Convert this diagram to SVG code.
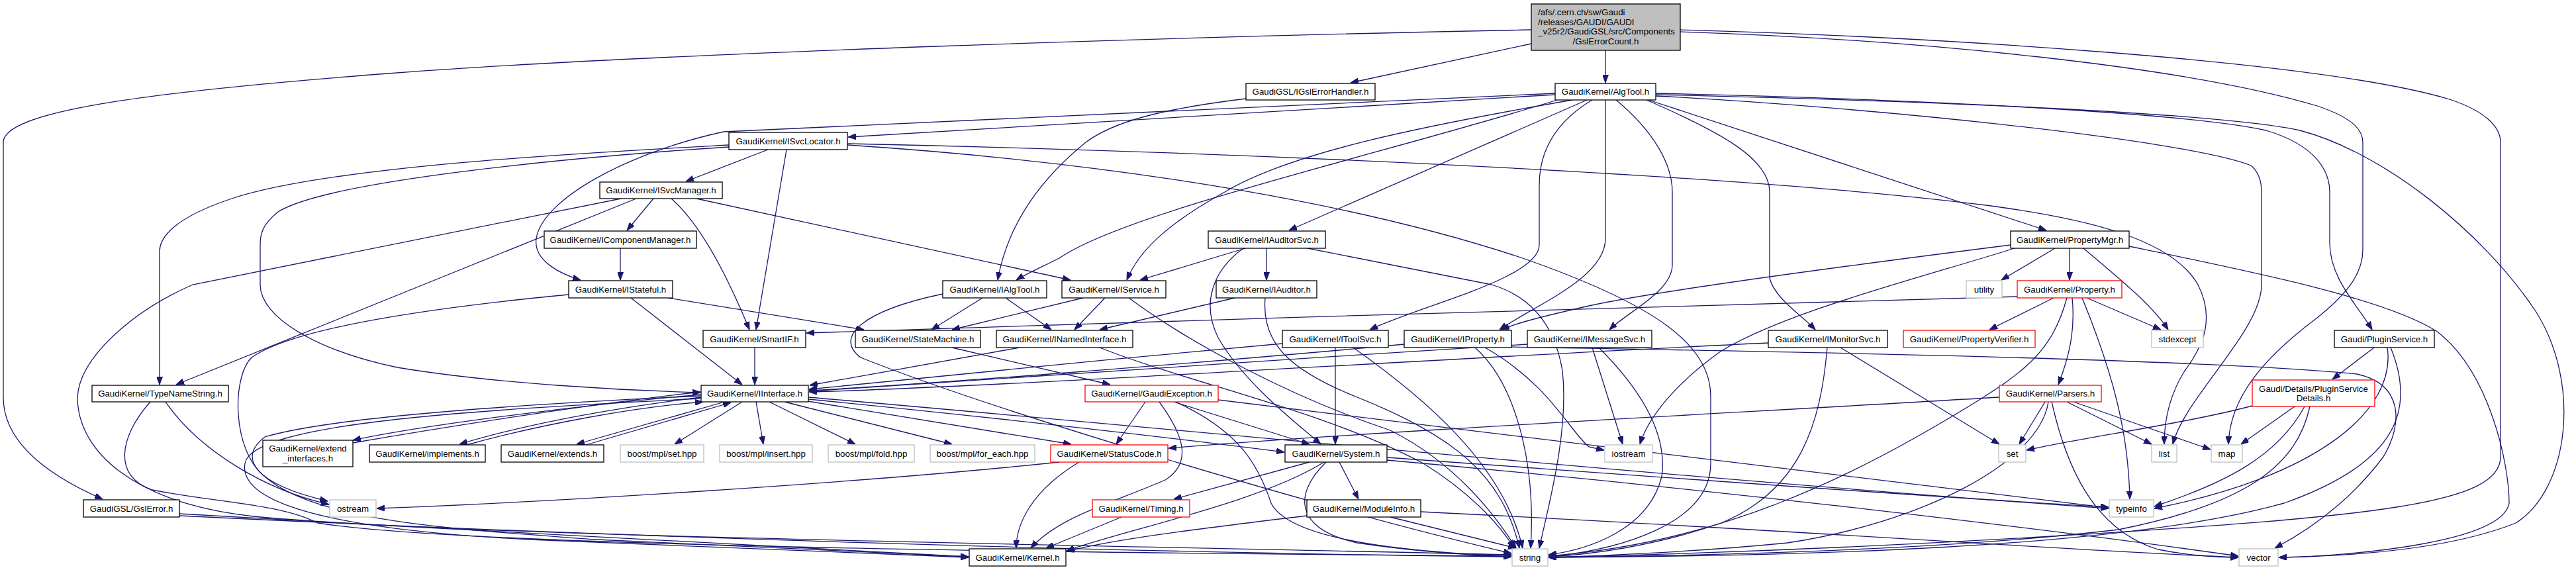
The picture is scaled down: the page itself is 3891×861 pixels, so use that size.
<svg xmlns="http://www.w3.org/2000/svg" width="3891" height="861" viewBox="0 0 3891 861">
<style>
.e{fill:none;stroke:#191970;stroke-width:1.3;marker-end:url(#ah)}
.n rect{fill:#fff;stroke:#000;stroke-width:1.3}
.g rect{fill:#fff;stroke:#bfbfbf;stroke-width:1.3}
.r rect{fill:#fff;stroke:#ff0000;stroke-width:1.3}
.rt rect{fill:#bfbfbf;stroke:#000;stroke-width:1.3}
text{font-family:"Liberation Sans",Arial,Helvetica,sans-serif;font-size:13.3px;fill:#000;text-anchor:middle}
text.l{text-anchor:start}
</style>
<defs>
<marker id="ah" markerUnits="userSpaceOnUse" viewBox="0 0 12 9" refX="12" refY="4.5" markerWidth="12" markerHeight="9" orient="auto">
<path d="M0,0 L12,4.5 L0,9 z" fill="#191970" stroke="#191970"/>
</marker>
</defs>
<rect width="3891" height="861" fill="#fff"/>
<g id="edges">
<path class="e" d="M2313,66 L2040,125"/>
<path class="e" d="M2425,76 L2425,125"/>
<path class="e" d="M2313,45 C1800,55 1000,80 600,110 C200,140 5,170 5,215 L5,600 C5,680 100,730 155,754"/>
<path class="e" d="M2538,45 C2900,55 3500,90 3700,150 C3760,170 3777,195 3777,215 L3777,690 C3777,760 3600,780 3100,810 C2800,828 2500,838 2339,842"/>
<path class="e" d="M2538,48 C2900,60 3300,100 3500,160 C3560,180 3569,200 3569,215 L3569,377 C3569,410 3550,440 3500,480 C3420,540 3368,600 3366,671"/>
<path class="e" d="M2349,143 L1281,207"/>
<path class="e" d="M2349,141 L1093,199 C950,230 820,300 810,360 C805,395 850,415 877,423"/>
<path class="e" d="M2352,151 C2100,230 1700,320 1600,390 C1570,405 1548,415 1535,423"/>
<path class="e" d="M2375,151 C2150,190 1950,230 1850,290 C1760,340 1720,380 1702,423"/>
<path class="e" d="M2397,151 L1947,348"/>
<path class="e" d="M2405,151 C2340,190 2325,240 2325,280 L2325,370 C2325,420 2150,460 2069,498"/>
<path class="e" d="M2425,151 L2425,360 C2425,420 2320,460 2265,498"/>
<path class="e" d="M2441,151 C2500,200 2526,250 2526,290 L2526,400 C2526,440 2460,470 2431,498"/>
<path class="e" d="M2487,151 C2600,200 2673,240 2673,290 L2673,420 C2680,450 2720,475 2742,498"/>
<path class="e" d="M2490,151 L3091,348"/>
<path class="e" d="M2501,141 C2900,150 3300,170 3423,197 C3500,220 3519,260 3519,290 L3519,367 C3519,420 3560,460 3583,498"/>
<path class="e" d="M2501,143 C2900,152 3350,170 3474,197 C3600,230 3750,350 3830,470 C3900,580 3880,740 3800,790 C3700,830 3550,840 3442,842"/>
<path class="e" d="M2501,145 C2800,160 3300,210 3400,250 C3412,260 3416,275 3416,290 L3416,430 C3416,500 3300,600 3282,671"/>
<path class="e" d="M1882,149 C1750,165 1680,185 1640,215 C1560,280 1520,350 1507,423"/>
<path class="e" d="M1160,226 L1036,274"/>
<path class="e" d="M1188,226 L1142,498"/>
<path class="e" d="M1101,219 C900,230 500,250 350,300 C260,330 241,360 241,380 L241,581"/>
<path class="e" d="M1101,222 C900,235 500,270 420,320 C395,340 393,355 393,370 L393,430 C393,480 480,530 600,555 C750,580 950,590 1058,593"/>
<path class="e" d="M1280,217 C1800,228 2600,260 3000,310 C3150,330 3280,360 3320,430 C3345,480 3330,520 3300,560 C3275,600 3269,640 3269,671"/>
<path class="e" d="M1280,219 C1600,240 2000,290 2300,390 C2500,460 2584,520 2584,600 L2584,700 C2584,790 2450,830 2339,841"/>
<path class="e" d="M987,300 L947,348"/>
<path class="e" d="M1014,300 C1060,340 1100,420 1132,498"/>
<path class="e" d="M1052,300 L1617,423"/>
<path class="e" d="M961,300 L266,581"/>
<path class="e" d="M938,300 L291,430 C200,470 120,540 117,600 C117,680 200,760 383,780 C700,810 1500,820 2283,838"/>
<path class="e" d="M937,375 L937,423"/>
<path class="e" d="M953,450 L1121,581"/>
<path class="e" d="M1009,450 L1305,498"/>
<path class="e" d="M859,445 C700,460 450,490 380,540 C350,570 350,680 400,720 C480,790 700,800 900,815 C1200,830 1400,838 1463,841"/>
<path class="e" d="M1484,450 L1407,498"/>
<path class="e" d="M1519,450 L1588,498"/>
<path class="e" d="M1424,444 C1300,470 1260,510 1300,540 C1500,620 2000,770 2283,836"/>
<path class="e" d="M1669,450 L1623,498"/>
<path class="e" d="M1636,450 L1438,498"/>
<path class="e" d="M1705,450 C1800,520 1950,600 2100,650 C2200,700 2260,780 2290,828"/>
<path class="e" d="M1881,375 L1722,423"/>
<path class="e" d="M1913,375 L1913,423"/>
<path class="e" d="M1878,375 C1830,410 1815,460 1840,510 C1880,580 1960,640 1995,671"/>
<path class="e" d="M1975,375 L2253,430 C2320,450 2350,500 2360,560 C2370,650 2340,760 2325,828"/>
<path class="e" d="M1865,450 L1661,498"/>
<path class="e" d="M1911,450 C1905,520 1950,560 2050,600 C2200,660 2270,720 2295,828"/>
<path class="e" d="M1140,525 L1140,581"/>
<path class="e" d="M1438,525 L1677,581"/>
<path class="e" d="M1540,525 L1223,582"/>
<path class="e" d="M1661,525 C1800,580 2000,620 2150,700 C2230,750 2270,800 2287,828"/>
<path class="e" d="M1937,519 C1700,540 1400,570 1222,588"/>
<path class="e" d="M2017,525 L2017,671"/>
<path class="e" d="M2044,525 C2150,600 2270,700 2300,828"/>
<path class="e" d="M2121,520 C1800,550 1400,580 1222,590"/>
<path class="e" d="M2228,525 C2290,580 2320,700 2312,828"/>
<path class="e" d="M2243,525 C2340,580 2370,650 2400,675 L2423,680"/>
<path class="e" d="M2283,524 C2600,530 3300,540 3560,565 C3630,580 3630,640 3600,690 C3540,770 3470,810 3436,828"/>
<path class="e" d="M2307,520 C1900,545 1400,580 1222,591"/>
<path class="e" d="M2405,525 L2451,671"/>
<path class="e" d="M2415,525 C2470,580 2520,650 2510,720 C2490,800 2400,830 2339,838"/>
<path class="e" d="M2671,518 C2200,540 1500,585 1222,592"/>
<path class="e" d="M2780,525 L3020,671"/>
<path class="e" d="M2760,525 C2750,640 2720,740 2600,790 C2500,825 2400,838 2339,841"/>
<path class="e" d="M3037,370 C2800,400 2500,440 2400,462 C2330,478 2290,488 2268,498"/>
<path class="e" d="M3043,375 C2900,420 2700,470 2600,530 C2530,580 2490,630 2477,671"/>
<path class="e" d="M3104,375 L3023,423"/>
<path class="e" d="M3126,375 L3126,423"/>
<path class="e" d="M3147,375 C3200,420 3250,460 3275,498"/>
<path class="e" d="M3216,372 C3400,410 3600,450 3680,500 C3760,560 3790,700 3790,760 C3780,820 3550,840 3442,842"/>
<path class="e" d="M3102,450 L3005,498"/>
<path class="e" d="M3130,450 C3135,500 3125,540 3109,581"/>
<path class="e" d="M3145,450 C3190,560 3215,650 3217,754"/>
<path class="e" d="M3152,450 L3264,498"/>
<path class="e" d="M3122,450 C3100,530 3060,560 2980,610 C2800,720 2600,820 2339,840"/>
<path class="e" d="M3048,448 C2600,465 1800,480 1218,503"/>
<path class="e" d="M3089,607 L3050,671"/>
<path class="e" d="M3122,607 L3250,671"/>
<path class="e" d="M3132,607 L3339,679"/>
<path class="e" d="M3094,607 C3080,700 2900,790 2700,820 C2550,835 2400,840 2339,842"/>
<path class="e" d="M3099,607 C3120,700 3160,800 3260,830 C3310,840 3350,842 3381,842"/>
<path class="e" d="M3020,600 C2600,625 2100,650 1765,677"/>
<path class="e" d="M3586,525 L3523,573"/>
<path class="e" d="M3606,525 C3620,620 3500,720 3254,768"/>
<path class="e" d="M3611,525 C3650,620 3620,700 3450,760 C3200,830 2700,840 2339,842"/>
<path class="e" d="M3466,614 L3385,671"/>
<path class="e" d="M3481,614 C3440,690 3360,730 3254,765"/>
<path class="e" d="M3402,613 C3300,640 3150,660 3061,680"/>
<path class="e" d="M3489,614 C3470,700 3400,760 3200,800 C2900,835 2500,840 2339,842"/>
<path class="e" d="M250,607 C300,680 400,740 497,762"/>
<path class="e" d="M227,607 C180,660 170,720 230,740 C330,760 420,760 480,790 C700,825 1600,835 2283,840"/>
<path class="e" d="M271,776 C700,800 1200,830 1463,841"/>
<path class="e" d="M271,779 C900,810 1700,835 2283,841"/>
<path class="e" d="M1121,607 L1019,671"/>
<path class="e" d="M1142,607 L1153,671"/>
<path class="e" d="M1162,607 L1292,671"/>
<path class="e" d="M1185,607 L1438,671"/>
<path class="e" d="M1220,606 L1618,671"/>
<path class="e" d="M1221,603 C1500,630 1800,665 1940,683"/>
<path class="e" d="M1221,600 C1800,650 2500,720 3185,768"/>
<path class="e" d="M1058,598 C800,610 500,630 400,660 C360,690 380,730 495,757"/>
<path class="e" d="M1058,602 C700,620 380,640 370,700 C360,760 500,800 800,815 C1100,828 1350,838 1463,842"/>
<path class="e" d="M1058,596 C900,610 650,640 533,665"/>
<path class="e" d="M533,669 C700,640 900,610 1058,592"/>
<path class="e" d="M1059,600 C900,620 780,645 694,671"/>
<path class="e" d="M705,672 C820,640 960,615 1062,607"/>
<path class="e" d="M1091,608 L871,671"/>
<path class="e" d="M885,672 L1104,608"/>
<path class="e" d="M1730,607 L1686,671"/>
<path class="e" d="M1773,607 L1978,671"/>
<path class="e" d="M1751,607 C1790,660 1800,700 1760,725 C1680,760 1600,780 1557,828"/>
<path class="e" d="M1776,607 C1870,650 1900,700 1920,760 C1950,820 2150,835 2283,840"/>
<path class="e" d="M1840,604 C2300,660 2800,720 3185,767"/>
<path class="e" d="M1600,698 C1300,730 800,760 569,768"/>
<path class="e" d="M1630,698 C1560,740 1535,790 1535,828"/>
<path class="e" d="M1978,698 L1773,754"/>
<path class="e" d="M2023,698 L2052,754"/>
<path class="e" d="M2000,698 C1900,760 1700,800 1611,832"/>
<path class="e" d="M2003,698 C1950,750 1960,800 2050,820 C2150,835 2250,840 2283,841"/>
<path class="e" d="M2095,691 C2500,720 2900,750 3185,766"/>
<path class="e" d="M2095,695 C2600,740 3100,800 3381,840"/>
<path class="e" d="M1694,781 L1580,828"/>
<path class="e" d="M1974,779 C1800,800 1680,815 1611,833"/>
<path class="e" d="M2100,781 L2290,828"/>
<path class="e" d="M2146,773 C2700,800 3100,830 3381,842"/>
</g>
<g id="n_root" class="rt"><rect x="2313" y="6" width="225" height="70"/><text class="l" x="2323" y="23">/afs/.cern.ch/sw/Gaudi</text><text class="l" x="2323" y="37.5">/releases/GAUDI/GAUDI</text><text class="l" x="2323" y="52">_v25r2/GaudiGSL/src/Components</text><text x="2425.5" y="67">/GslErrorCount.h</text></g>
<g id="n_igslerrorhandler" class="n"><rect x="1882" y="126" width="195" height="25"/><text x="1979.5" y="143">GaudiGSL/IGslErrorHandler.h</text></g>
<g id="n_algtool" class="n"><rect x="2349" y="126" width="152" height="25"/><text x="2425" y="143">GaudiKernel/AlgTool.h</text></g>
<g id="n_isvclocator" class="n"><rect x="1101" y="200" width="179" height="26"/><text x="1190.5" y="217.5">GaudiKernel/ISvcLocator.h</text></g>
<g id="n_isvcmanager" class="n"><rect x="906" y="275" width="185" height="25"/><text x="998.5" y="292">GaudiKernel/ISvcManager.h</text></g>
<g id="n_icomponentmanager" class="n"><rect x="822" y="349" width="230" height="26"/><text x="937" y="366.5">GaudiKernel/IComponentManager.h</text></g>
<g id="n_iauditorsvc" class="n"><rect x="1825" y="349" width="177" height="26"/><text x="1913.5" y="366.5">GaudiKernel/IAuditorSvc.h</text></g>
<g id="n_propertymgr" class="n"><rect x="3037" y="349" width="179" height="26"/><text x="3126.5" y="366.5">GaudiKernel/PropertyMgr.h</text></g>
<g id="n_istateful" class="n"><rect x="859" y="424" width="157" height="26"/><text x="937.5" y="441.5">GaudiKernel/IStateful.h</text></g>
<g id="n_ialgtool" class="n"><rect x="1424" y="424" width="157" height="26"/><text x="1502.5" y="441.5">GaudiKernel/IAlgTool.h</text></g>
<g id="n_iservice" class="n"><rect x="1604" y="424" width="157" height="26"/><text x="1682.5" y="441.5">GaudiKernel/IService.h</text></g>
<g id="n_iauditor" class="n"><rect x="1837" y="424" width="152" height="26"/><text x="1913" y="441.5">GaudiKernel/IAuditor.h</text></g>
<g id="n_utility" class="g"><rect x="2970" y="424" width="54" height="26"/><text x="2997" y="441.5">utility</text></g>
<g id="n_property" class="r"><rect x="3047" y="424" width="158" height="26"/><text x="3126" y="441.5">GaudiKernel/Property.h</text></g>
<g id="n_smartif" class="n"><rect x="1062" y="499" width="155" height="26"/><text x="1139.5" y="516.5">GaudiKernel/SmartIF.h</text></g>
<g id="n_statemachine" class="n"><rect x="1292" y="499" width="189" height="26"/><text x="1386.5" y="516.5">GaudiKernel/StateMachine.h</text></g>
<g id="n_inamedinterface" class="n"><rect x="1505" y="499" width="206" height="26"/><text x="1608" y="516.5">GaudiKernel/INamedInterface.h</text></g>
<g id="n_itoolsvc" class="n"><rect x="1937" y="499" width="160" height="26"/><text x="2017" y="516.5">GaudiKernel/IToolSvc.h</text></g>
<g id="n_iproperty" class="n"><rect x="2121" y="499" width="162" height="26"/><text x="2202" y="516.5">GaudiKernel/IProperty.h</text></g>
<g id="n_imessagesvc" class="n"><rect x="2307" y="499" width="188" height="26"/><text x="2401" y="516.5">GaudiKernel/IMessageSvc.h</text></g>
<g id="n_imonitorsvc" class="n"><rect x="2671" y="499" width="180" height="26"/><text x="2761" y="516.5">GaudiKernel/IMonitorSvc.h</text></g>
<g id="n_propertyverifier" class="r"><rect x="2875" y="499" width="199" height="26"/><text x="2974.5" y="516.5">GaudiKernel/PropertyVerifier.h</text></g>
<g id="n_stdexcept" class="g"><rect x="3250" y="499" width="78" height="26"/><text x="3289" y="516.5">stdexcept</text></g>
<g id="n_pluginservice" class="n"><rect x="3526" y="499" width="151" height="26"/><text x="3601.5" y="516.5">Gaudi/PluginService.h</text></g>
<g id="n_typenamestring" class="n"><rect x="139" y="582" width="206" height="25"/><text x="242" y="599">GaudiKernel/TypeNameString.h</text></g>
<g id="n_iinterface" class="n"><rect x="1059" y="582" width="162" height="25"/><text x="1140" y="599">GaudiKernel/IInterface.h</text></g>
<g id="n_gaudiexception" class="r"><rect x="1639" y="582" width="201" height="25"/><text x="1739.5" y="599">GaudiKernel/GaudiException.h</text></g>
<g id="n_parsers" class="r"><rect x="3020" y="582" width="154" height="25"/><text x="3097" y="599">GaudiKernel/Parsers.h</text></g>
<g id="n_pluginservicedetails" class="r"><rect x="3402" y="574" width="185" height="40"/><text x="3494.5" y="591.5">Gaudi/Details/PluginService</text><text x="3494.5" y="605.5">Details.h</text></g>
<g id="n_extend_interfaces" class="n"><rect x="397" y="665" width="136" height="40"/><text x="465" y="681.5">GaudiKernel/extend</text><text x="465" y="696.5">_interfaces.h</text></g>
<g id="n_implements" class="n"><rect x="558" y="672" width="175" height="26"/><text x="645.5" y="689.5">GaudiKernel/implements.h</text></g>
<g id="n_extends" class="n"><rect x="757" y="672" width="155" height="26"/><text x="834.5" y="689.5">GaudiKernel/extends.h</text></g>
<g id="n_mpl_set" class="g"><rect x="937" y="672" width="126" height="26"/><text x="1000" y="689.5">boost/mpl/set.hpp</text></g>
<g id="n_mpl_insert" class="g"><rect x="1087" y="672" width="140" height="26"/><text x="1157" y="689.5">boost/mpl/insert.hpp</text></g>
<g id="n_mpl_fold" class="g"><rect x="1251" y="672" width="130" height="26"/><text x="1316" y="689.5">boost/mpl/fold.hpp</text></g>
<g id="n_mpl_for_each" class="g"><rect x="1405" y="672" width="158" height="26"/><text x="1484" y="689.5">boost/mpl/for_each.hpp</text></g>
<g id="n_statuscode" class="r"><rect x="1587" y="672" width="177" height="26"/><text x="1675.5" y="689.5">GaudiKernel/StatusCode.h</text></g>
<g id="n_system" class="n"><rect x="1941" y="672" width="154" height="26"/><text x="2018" y="689.5">GaudiKernel/System.h</text></g>
<g id="n_iostream" class="g"><rect x="2424" y="672" width="72" height="26"/><text x="2460" y="689.5">iostream</text></g>
<g id="n_set" class="g"><rect x="3019" y="672" width="41" height="26"/><text x="3039.5" y="689.5">set</text></g>
<g id="n_list" class="g"><rect x="3250" y="672" width="38" height="26"/><text x="3269" y="689.5">list</text></g>
<g id="n_map" class="g"><rect x="3340" y="672" width="47" height="26"/><text x="3363.5" y="689.5">map</text></g>
<g id="n_gslerror" class="n"><rect x="126" y="755" width="145" height="26"/><text x="198.5" y="772.5">GaudiGSL/GslError.h</text></g>
<g id="n_ostream" class="g"><rect x="498" y="755" width="70" height="26"/><text x="533" y="772.5">ostream</text></g>
<g id="n_timing" class="r"><rect x="1650" y="755" width="147" height="26"/><text x="1723.5" y="772.5">GaudiKernel/Timing.h</text></g>
<g id="n_moduleinfo" class="n"><rect x="1974" y="755" width="172" height="26"/><text x="2060" y="772.5">GaudiKernel/ModuleInfo.h</text></g>
<g id="n_typeinfo" class="g"><rect x="3186" y="755" width="67" height="26"/><text x="3219.5" y="772.5">typeinfo</text></g>
<g id="n_kernel" class="n"><rect x="1464" y="829" width="146" height="26"/><text x="1537" y="846.5">GaudiKernel/Kernel.h</text></g>
<g id="n_string" class="g"><rect x="2284" y="829" width="54" height="26"/><text x="2311" y="846.5">string</text></g>
<g id="n_vector" class="g"><rect x="3382" y="829" width="59" height="26"/><text x="3411.5" y="846.5">vector</text></g>
</svg>
